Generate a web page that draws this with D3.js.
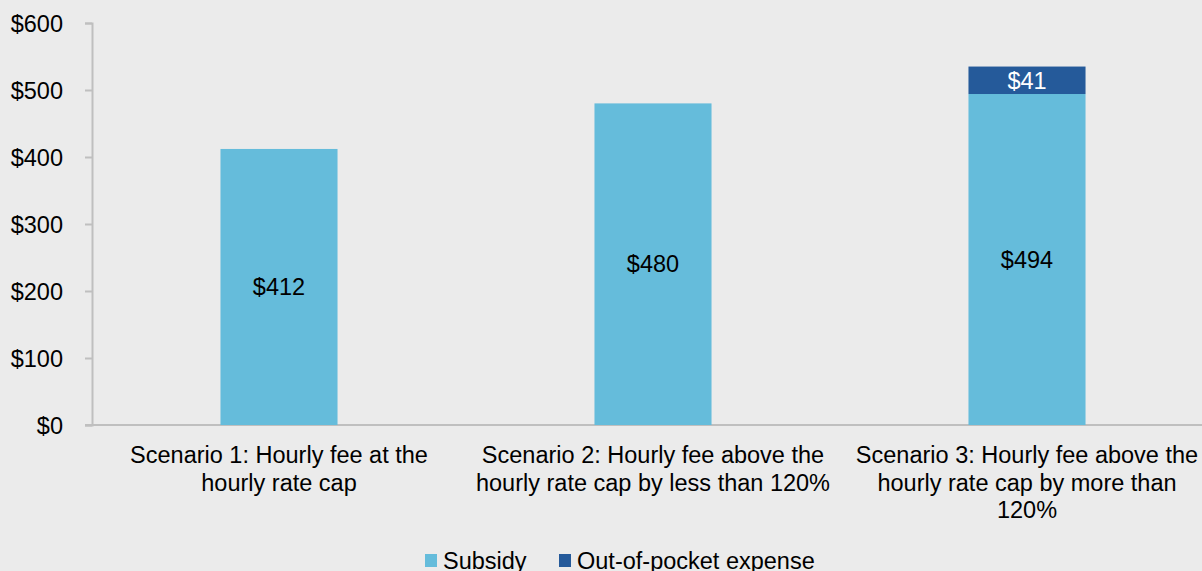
<!DOCTYPE html>
<html lang="en">
<head>
  <meta charset="UTF-8">
  <title>Scenarios</title>
  <style>
    body { margin: 0; background: #ebebeb; }
    svg { display: block; font-family: "Liberation Sans", Arial, sans-serif; }
    .axis path, .axis line { stroke: #bfbfbf; stroke-width: 2; }
    .axis text { font-size: 23.5px; fill: #000; }
  </style>
</head>
<body>
  <div id="chart"></div>
  <script src="https://cdn.jsdelivr.net/npm/d3@7"></script>
  <script>
    var categories = [
      ['Scenario 1: Hourly fee at the', 'hourly rate cap'],
      ['Scenario 2: Hourly fee above the', 'hourly rate cap by less than 120%'],
      ['Scenario 3: Hourly fee above the', 'hourly rate cap by more than', '120%']
    ];
    var subsidy = [412, 480, 494];
    var outOfPocket = [0, 0, 41];
    var yTicks = [0, 100, 200, 300, 400, 500, 600];
    var seriesNames = ['Subsidy', 'Out-of-pocket expense'];
    var colors = ['#65bcdb', '#255a9a'];

    var W = 1202, H = 571, fs = '23.5px';
    var svg = d3.select('#chart').append('svg').attr('width', W).attr('height', H);

    var x = d3.scaleBand().domain(d3.range(categories.length)).range([92, 1214]);
    var y = d3.scaleLinear().domain([0, 600]).range([425, 23]);
    var barW = x.bandwidth() * 0.313;

    // y axis
    var yAxis = svg.append('g').attr('class', 'axis')
      .attr('transform', 'translate(92,0)')
      .call(d3.axisLeft(y).tickValues(yTicks).tickSize(7).tickPadding(22)
        .tickFormat(function (d) { return '$' + d; }));
    yAxis.selectAll('text').attr('dy', '0.35em');

    // x axis line
    svg.append('line')
      .attr('x1', 85).attr('x2', W).attr('y1', y(0)).attr('y2', y(0))
      .style('stroke', '#bfbfbf').style('stroke-width', 2);

    var stack = categories.map(function (c, i) {
      return [
        { s: 0, y0: 0, y1: subsidy[i], v: subsidy[i] },
        { s: 1, y0: subsidy[i], y1: subsidy[i] + outOfPocket[i], v: outOfPocket[i] }
      ].filter(function (d) { return d.v > 0; })
        .map(function (d) { d.i = i; return d; });
    });
    var segs = [].concat.apply([], stack);

    svg.selectAll('rect.bar').data(segs).enter().append('rect')
      .attr('class', 'bar')
      .attr('x', function (d) { return x(d.i) + (x.bandwidth() - barW) / 2; })
      .attr('width', barW)
      .attr('y', function (d) { return y(d.y1); })
      .attr('height', function (d) { return y(d.y0) - y(d.y1); })
      .attr('fill', function (d) { return colors[d.s]; });

    svg.selectAll('text.val').data(segs).enter().append('text')
      .attr('class', 'val')
      .attr('x', function (d) { return x(d.i) + x.bandwidth() / 2; })
      .attr('y', function (d) { return (y(d.y0) + y(d.y1)) / 2; })
      .attr('dy', '0.35em')
      .attr('text-anchor', 'middle')
      .style('font-size', fs)
      .attr('fill', function (d) { return d.s === 1 ? '#fff' : '#000'; })
      .text(function (d) { return '$' + d.v; });

    // category labels
    var lab = svg.selectAll('text.cat').data(categories).enter().append('text')
      .attr('class', 'cat')
      .attr('text-anchor', 'middle')
      .style('font-size', fs)
      .attr('fill', '#000');
    lab.each(function (lines, i) {
      d3.select(this).selectAll('tspan').data(lines).enter().append('tspan')
        .attr('x', x(i) + x.bandwidth() / 2)
        .attr('y', function (d, k) { return 463 + k * 27.5; })
        .text(function (d) { return d; });
    });

    // legend
    var legX = [425, 559];
    var leg = svg.selectAll('g.leg').data(seriesNames).enter().append('g')
      .attr('class', 'leg')
      .attr('transform', function (d, i) { return 'translate(' + legX[i] + ',554)'; });
    leg.append('rect').attr('width', 12).attr('height', 13)
      .attr('fill', function (d, i) { return colors[i]; });
    leg.append('text').attr('x', 18).attr('y', 7).attr('dy', '0.35em')
      .style('font-size', fs).attr('fill', '#000')
      .text(function (d) { return d; });
  </script>
</body>
</html>
